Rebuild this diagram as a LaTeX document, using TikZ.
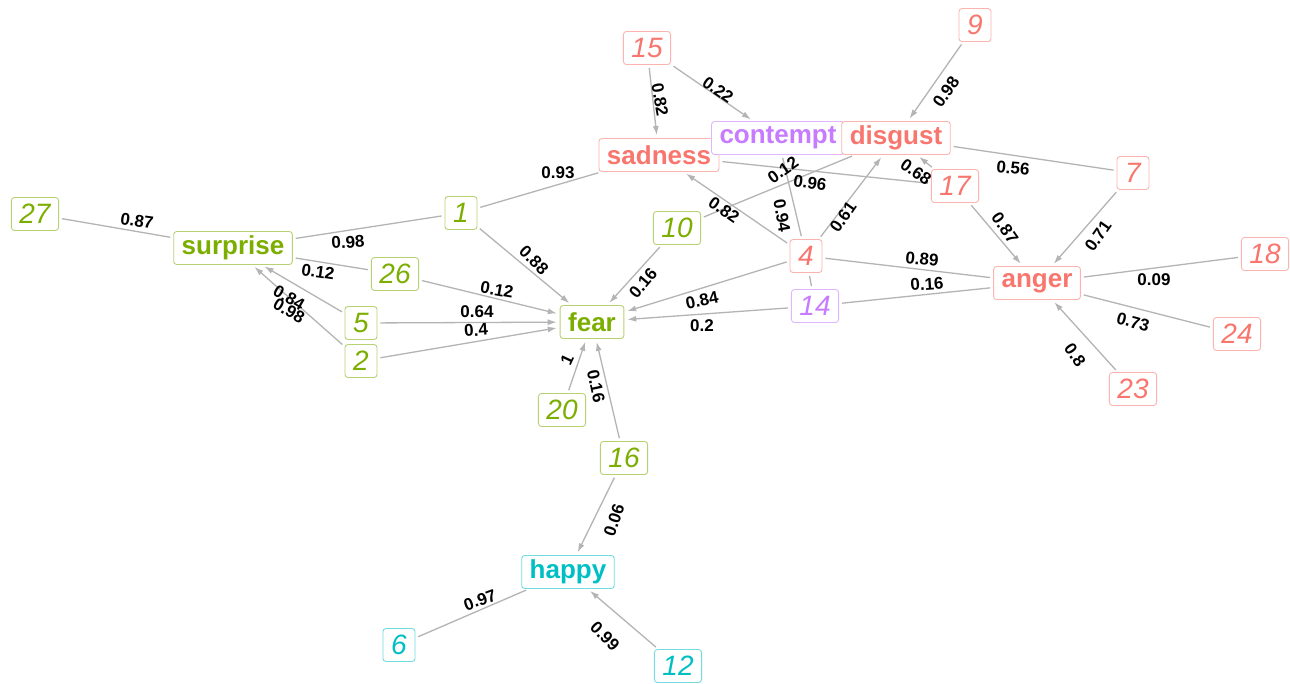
\documentclass[tikz,border=0pt]{standalone}
\usepackage{fontspec}
\setmainfont{Liberation Sans}
\usetikzlibrary{arrows.meta}
\pgfdeclarelayer{bg}
\pgfsetlayers{bg,main}
\definecolor{cgreen}{HTML}{7CAE00}
\definecolor{cred}{HTML}{F8766D}
\definecolor{cpurple}{HTML}{C77CFF}
\definecolor{ccyan}{HTML}{00BFC4}
\definecolor{edgegray}{HTML}{B4B4B4}
\tikzset{
  box/.style={rectangle, rounded corners=3pt, fill=white, line width=0.9pt,
    minimum height=33pt, minimum width=32pt, inner xsep=8pt, inner ysep=2pt},
  emo/.style={box, font=\bfseries\fontsize{26}{26}\selectfont},
  num/.style={box, font=\itshape\fontsize{28}{28}\selectfont},
  gr/.style={draw=cgreen!55!white, text=cgreen},
  rd/.style={draw=cred!55!white, text=cred},
  pu/.style={draw=cpurple!55!white, text=cpurple},
  cy/.style={draw=ccyan!55!white, text=ccyan},
  lab/.style={font=\bfseries\fontsize{17}{17}\selectfont, inner sep=0pt, text=black},
  edge/.style={draw=edgegray, line width=1.3pt, shorten >=3pt, shorten <=3pt},
  arr/.style={edge, -{Latex[length=9pt,width=6pt]}}
}
\begin{document}
\begin{tikzpicture}[x=1pt,y=-1pt]
\useasboundingbox (0,0) rectangle (1290,683);
% nodes
\node[num,gr] (n27) at (35,214) {27};
\node[emo,gr] (surprise) at (233,248) {surprise};
\node[num,gr] (n1) at (461,213) {1};
\node[num,gr] (n26) at (395,274) {26};
\node[num,gr] (n5) at (361,323) {5};
\node[num,gr] (n2) at (361,361) {2};
\node[emo,gr] (fear) at (592,322) {fear};
\node[num,gr] (n10) at (677,228) {10};
\node[num,gr] (n20) at (562,410) {20};
\node[num,gr] (n16) at (624,458) {16};
\node[emo,cy] (happy) at (568,572) {happy};
\node[num,cy] (n6) at (399,645) {6};
\node[num,cy] (n12) at (678,666) {12};
\node[num,rd] (n15) at (647,48) {15};
\node[num,rd] (n9) at (975,25) {9};
\node[emo,rd] (sadness) at (659,155) {sadness};
\node[emo,pu] (contempt) at (778,138) {contempt};
\node[emo,rd] (disgust) at (896,138) {disgust};
\node[num,rd] (n17) at (955,186) {17};
\node[num,rd] (n7) at (1133,173) {7};
\node[num,rd] (n4) at (806,256) {4};
\node[num,pu] (n14) at (815,306) {14};
\node[emo,rd] (anger) at (1037,283) {anger};
\node[num,rd] (n18) at (1265,254) {18};
\node[num,rd] (n24) at (1237,334) {24};
\node[num,rd] (n23) at (1133,389) {23};
% edges
\begin{pgfonlayer}{bg}
\fill[white] (0,0) rectangle (1290,683);
\draw[edge] (n27) -- (surprise);
\draw[edge] (surprise) -- (n1);
\draw[edge] (surprise) -- (n26);
\draw[arr] (n5) -- (surprise);
\draw[arr] (n2) -- (surprise);
\draw[edge] (n1) -- (sadness);
\draw[arr] (n1) -- (fear);
\draw[arr] (n26) -- (fear);
\draw[arr] (n5) -- (fear);
\draw[arr] (n2) -- (fear);
\draw[arr] (n10) -- (fear);
\draw[arr] (n4) -- (fear);
\draw[arr] (n14) -- (fear);
\draw[arr] (n20) -- (fear);
\draw[arr] (n16) -- (fear);
\draw[arr] (n16) -- (happy);
\draw[edge] (happy) -- (n6);
\draw[arr] (n12) -- (happy);
\draw[arr] (n15) -- (sadness);
\draw[arr] (n15) -- (contempt);
\draw[arr] (n9) -- (disgust);
\draw[edge] (n10) -- (disgust);
\draw[edge] (sadness) -- (n17);
\draw[edge] (n4) -- (contempt);
\draw[arr] (n4) -- (disgust);
\draw[arr] (n4) -- (sadness);
\draw[arr] (n17) -- (disgust);
\draw[edge] (disgust) -- (n7);
\draw[arr] (n17) -- (anger);
\draw[arr] (n7) -- (anger);
\draw[edge] (n4) -- (anger);
\draw[edge] (n14) -- (anger);
\draw[edge] (n4) -- (n14);
\draw[edge] (anger) -- (n18);
\draw[edge] (anger) -- (n24);
\draw[arr] (n23) -- (anger);
\end{pgfonlayer}
% edge labels
\node[lab,rotate=-8] (l1) at (137,221) {0.87};
\node[lab,rotate=4] (l2) at (348,242) {0.98};
\node[lab,rotate=-8] (l3) at (318,272) {0.12};
\node[lab,rotate=-30] (l4) at (289,298) {0.84};
\node[lab,rotate=-30] (l5) at (289,311) {0.98};
\node[lab] (l6) at (558,173) {0.93};
\node[lab,rotate=-45] (l7) at (534,260) {0.88};
\node[lab,rotate=-10] (l8) at (497,290) {0.12};
\node[lab] (l9) at (477,312) {0.64};
\node[lab,rotate=4] (l10) at (476,330) {0.4};
\node[lab,rotate=50] (l11) at (643,283) {0.16};
\node[lab,rotate=12] (l12) at (702,300) {0.84};
\node[lab] (l13) at (702,326) {0.2};
\node[lab,rotate=65] (l14) at (567,360) {1};
\node[lab,rotate=-78] (l15) at (596,386) {0.16};
\node[lab,rotate=72] (l16) at (614,520) {0.06};
\node[lab,rotate=20] (l17) at (480,600) {0.97};
\node[lab,rotate=-45] (l18) at (605,636) {0.99};
\node[lab,rotate=-80] (l19) at (660,100) {0.82};
\node[lab,rotate=-35] (l20) at (718,90) {0.22};
\node[lab,rotate=55] (l21) at (946,92) {0.98};
\node[lab,rotate=35] (l22) at (783,170) {0.12};
\node[lab,rotate=-8] (l23) at (810,183) {0.96};
\node[lab,rotate=-80] (l24) at (782,216) {0.94};
\node[lab,rotate=55] (l25) at (843,217) {0.61};
\node[lab,rotate=-35] (l26) at (724,210) {0.82};
\node[lab,rotate=-35] (l27) at (916,172) {0.68};
\node[lab,rotate=-5] (l28) at (1013,168) {0.56};
\node[lab,rotate=-55] (l29) at (1005,228) {0.87};
\node[lab,rotate=55] (l30) at (1098,236) {0.71};
\node[lab,rotate=-5] (l31) at (922,259) {0.89};
\node[lab,rotate=4] (l32) at (927,284) {0.16};
\node[lab] (l33) at (1154,280) {0.09};
\node[lab,rotate=-15] (l34) at (1133,322) {0.73};
\node[lab,rotate=-55] (l35) at (1075,355) {0.8};
\end{tikzpicture}
\end{document}
